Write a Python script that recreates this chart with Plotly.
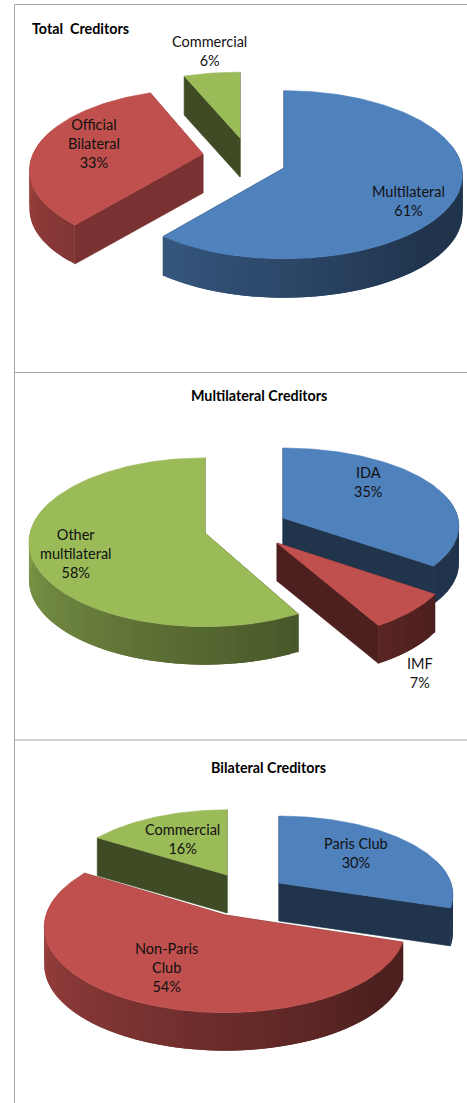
import math
import plotly.graph_objects as go

# ---- data ----
total_labels = ["Multilateral", "Official<br>Bilateral", "Commercial"]
total_values = [61, 33, 6]
multi_labels = ["IDA", "IMF", "Other<br>multilateral"]
multi_values = [35, 7, 58]
bilat_labels = ["Paris Club", "Non-Paris<br>Club", "Commercial"]
bilat_values = [30, 54, 16]
titles = ["Total  Creditors", "Multilateral Creditors", "Bilateral Creditors"]
colors = [(79, 129, 189), (192, 80, 77), (155, 187, 89)]

# ---- placement of each exploded slice: tip x, tip y, rx, ry, perspective, cut-face shade ----
W, H = 467, 1103
place_total = [(284, 168, 178, 83.5, 0.08, 0.40), (203, 154, 170, 78, 0.20, 0.63), (240, 138, 180, 79, 0.20, 0.40)]
place_multi = [(283, 518, 175, 77, 0.10, 0.40), (277, 543, 170, 76, 0.22, 0.40), (205, 533, 175, 83.4, 0.11, 0.40)]
place_bilat = [(279, 883, 172, 77, 0.15, 0.40), (225, 915, 179, 84, 0.14, 0.40), (227, 875, 166, 75, 0.15, 0.40)]
depths = [39, 38, 38]
draw_order = [[2, 1, 0], [0, 1, 2], [2, 0, 1]]
label_xy = [[(408.5, 200.5), (94, 143.5), (209, 50.5)],
            [(368, 481.5), (420, 672.5), (76, 553.5)],
            [(356, 852.5), (166, 967.5), (182, 838.5)]]
title_xy = [(29.5, 28, "left"), (259, 395, "center"), (268, 767, "center")]
rule_y = [4.5, 372.5, 740]
rule_x = 14.5

charts = [(total_labels, total_values, place_total),
          (multi_labels, multi_values, place_multi),
          (bilat_labels, bilat_values, place_bilat)]

fig = go.Figure()


def rim(p, deg):
    ax, ay, rx, ry, k, _ = p
    t = math.radians(deg)
    u, v = math.sin(t), math.cos(t)
    s = 1 / (1 + k * v)
    return ax + rx * u * s, ay - ry * v * s


def shade(base, f):
    return "rgb(%d,%d,%d)" % tuple(round(c * f) for c in base)


def poly(xs, ys, color, name=None, lw=0.6):
    fig.add_trace(go.Scatter(x=xs, y=ys, mode="lines", fill="toself", fillcolor=color,
                             line=dict(color=color, width=lw), hoverinfo="skip",
                             name=name, showlegend=False))


def wall_factor(deg):
    t = min(1, max(0, (290 - deg) / 160))
    return 0.88 - 0.48 * t


for c, (labels, values, places) in enumerate(charts):
    d = depths[c]
    total = sum(values)
    spans = []
    a = 0.0
    for v in values:
        spans.append((a, a + 360 * v / total))
        a += 360 * v / total
    for i in draw_order[c]:
        p, base = places[i], colors[i]
        a0, a1 = spans[i]
        ax, ay = p[0], p[1]
        # cut faces
        for e in (a1, a0):
            x, y = rim(p, e)
            poly([ax, x, x, ax, ax], [ay, y, y + d, ay + d, ay], shade(base, p[5]))
        # outer wall: overlapping strips, each painted over the previous one
        n = max(2, int((a1 - a0) / 2.5))
        step = (a1 - a0) / n
        for j in range(n):
            s0 = a0 + step * j
            m = s0 + step / 2
            if math.cos(math.radians(m)) > 0.3:
                continue
            s1 = min(a1, s0 + step * 2)
            pts = [rim(p, s0 + (s1 - s0) * q / 4) for q in range(5)]
            xs = [q[0] for q in pts] + [q[0] for q in reversed(pts)] + [pts[0][0]]
            ys = [q[1] for q in pts] + [q[1] + d for q in reversed(pts)] + [pts[0][1]]
            poly(xs, ys, shade(base, wall_factor(m)), lw=0)
        # top face
        n = max(8, int(a1 - a0))
        pts = [rim(p, a0 + (a1 - a0) * j / n) for j in range(n + 1)]
        poly([ax] + [q[0] for q in pts] + [ax], [ay] + [q[1] for q in pts] + [ay],
             shade(base, 1), name=labels[i].replace("<br>", " "))
    for i, (lab, val) in enumerate(zip(labels, values)):
        x, y = label_xy[c][i]
        fig.add_annotation(x=x, y=y, text=f"{lab}<br>{val}%", showarrow=False, xref="x", yref="y",
                           font=dict(family="Lato", size=14.5, color="#111111"), align="center")
    tx, ty, anchor = title_xy[c]
    fig.add_annotation(x=tx, y=ty, text=f"<b>{titles[c]}</b>", showarrow=False, xref="x", yref="y",
                       xanchor=anchor, font=dict(family="Lato", size=14.3, color="#000000"))

line = dict(color="#a6a6a6", width=1)
for y in rule_y:
    fig.add_shape(type="line", x0=rule_x, x1=W, y0=y, y1=y, line=line, xref="x", yref="y")
fig.add_shape(type="line", x0=rule_x, x1=rule_x, y0=rule_y[0], y1=H, line=line, xref="x", yref="y")

fig.update_layout(width=W, height=H, margin=dict(l=0, r=0, t=0, b=0),
                  paper_bgcolor="white", plot_bgcolor="white", showlegend=False,
                  xaxis=dict(range=[0, W], visible=False, fixedrange=True),
                  yaxis=dict(range=[H, 0], visible=False, fixedrange=True))
fig.write_html("out.html", config=dict(displayModeBar=False),
               post_script="document.body.style.margin='0';document.body.style.overflow='hidden';")
